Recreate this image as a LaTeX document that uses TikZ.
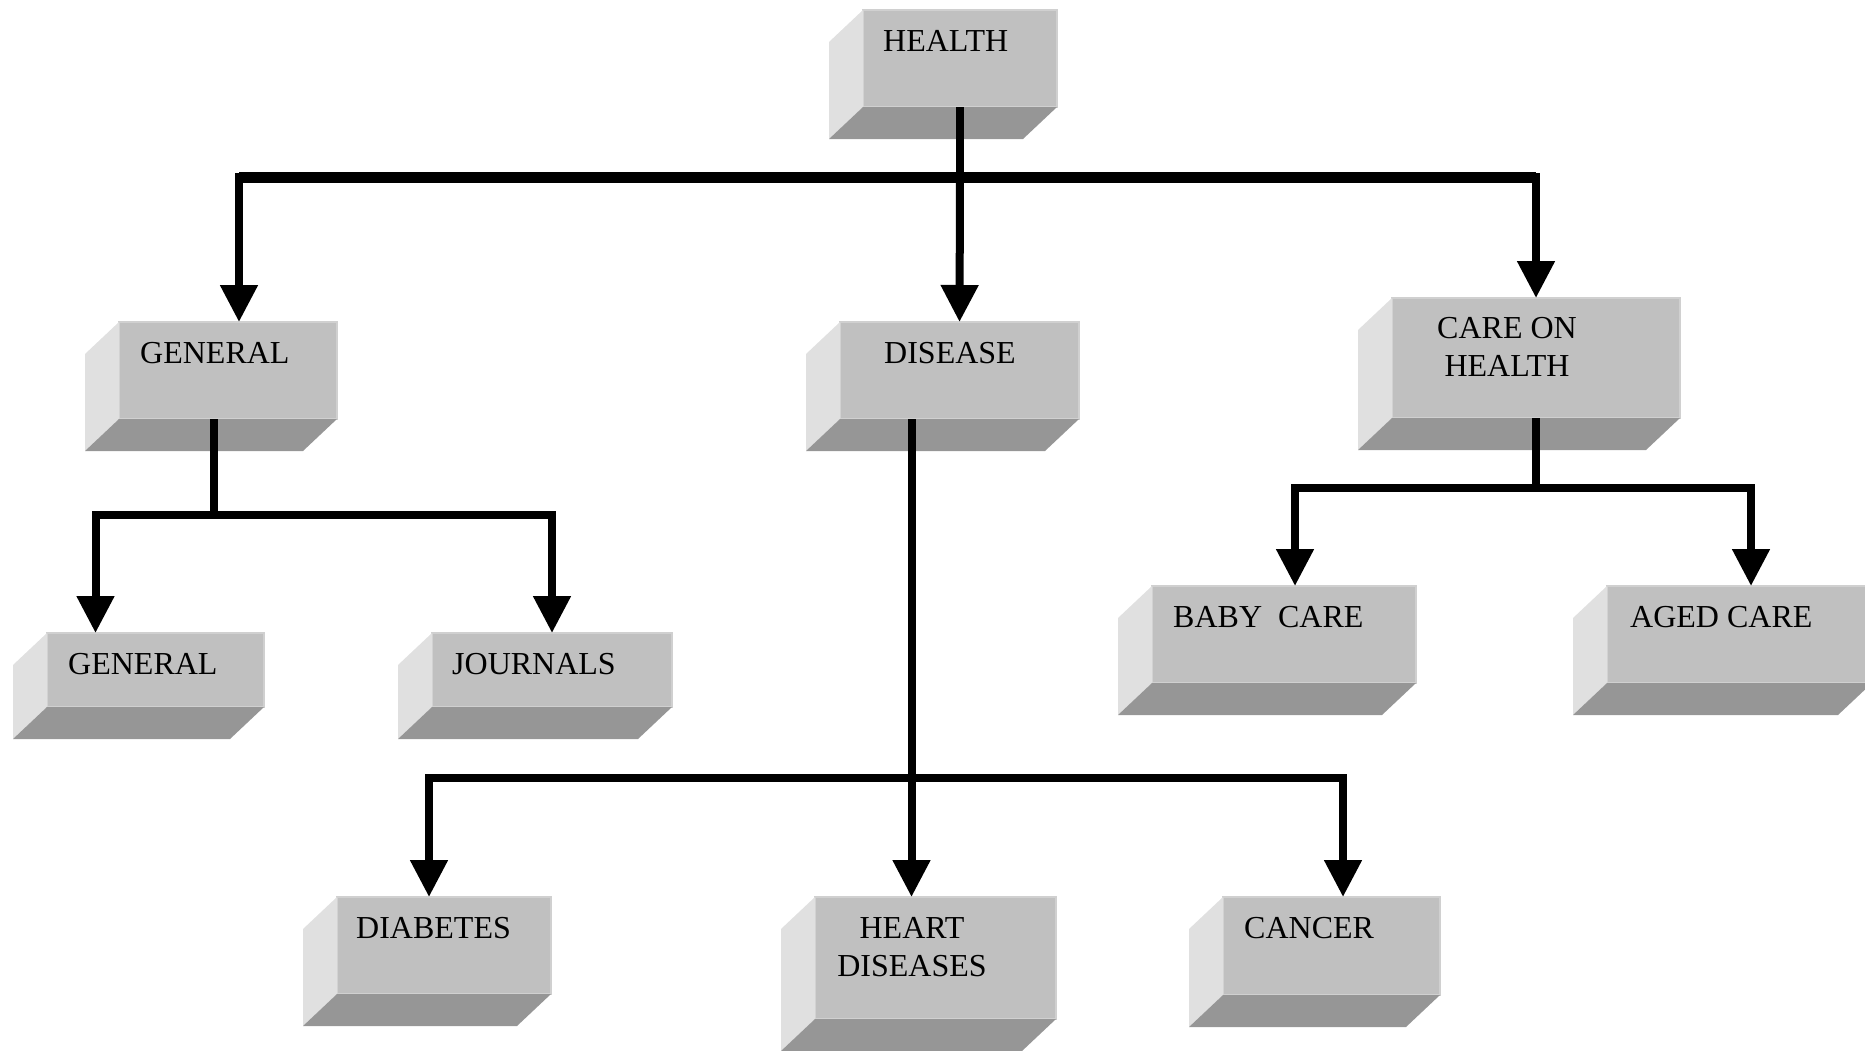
\documentclass[tikz,border=0pt]{standalone}
\usepackage{fontspec}
\setmainfont{Liberation Serif}
\usetikzlibrary{arrows.meta,calc}

\definecolor{facegray}{HTML}{C0C0C0}
\definecolor{rimgray}{HTML}{D0D0D0}
\definecolor{sidegray}{HTML}{E0E0E0}
\definecolor{lowgray}{HTML}{969696}

% raised box: front face node plus its left and lower bevels
\newcommand{\slab}[4]{%
  \node[face, minimum width=#3, minimum height=#4] (#1) at (#2) {};
  \fill[sidegray] (#1.north west) -- ++(-34,32) -- ($(#1.south west)+(-34,32)$)
    -- (#1.south west) -- cycle;
  \fill[lowgray] (#1.south west) -- (#1.south east) -- ++(-34,32)
    -- ($(#1.south west)+(-34,32)$) -- cycle;
}

\begin{document}
\begin{tikzpicture}[
  x=1pt, y=-1pt,
  font=\fontsize{32}{38}\selectfont,
  face/.style={draw=rimgray, line width=2pt, fill=facegray, anchor=north west,
    inner sep=0pt, outer sep=0pt},
  txt/.style={inner sep=0pt, align=center},
  link/.style={line width=8pt},
  bus/.style={line width=11pt},
  arr/.style={line width=8pt, -{Triangle[length=37pt,width=36pt]}}
]
  \clip (0,0) rectangle (1865,1050);

  % boxes
  \slab{health}{863,10}{194pt}{97pt}
  \slab{gena}{119,322}{218pt}{97pt}
  \slab{dis}{840,322}{239pt}{97pt}
  \slab{care}{1392,298}{288pt}{120pt}
  \slab{genb}{47,633}{217pt}{74pt}
  \slab{jour}{432,633}{240pt}{74pt}
  \slab{baby}{1152,586}{264pt}{97pt}
  \slab{aged}{1607,586}{265pt}{97pt}
  \slab{diab}{337,897}{214pt}{97pt}
  \slab{heart}{815,897}{241pt}{122pt}
  \slab{canc}{1223,897}{217pt}{98pt}

  % labels
  \node[txt, anchor=base west] (health-t) at (883,51) {HEALTH};
  \node[txt, anchor=base west] (gena-t) at (140,363) {GENERAL};
  \node[txt, anchor=base west] (dis-t) at (884,363) {DISEASE};
  \node[txt, anchor=north] (care-t) at (1507,317.5) {CARE ON\\HEALTH};
  \node[txt, anchor=base west] (genb-t) at (68,674) {GENERAL};
  \node[txt, anchor=base west] (jour-t) at (452,674) {JOURNALS};
  \node[txt, anchor=base west] (baby-t) at (1173,627) {BABY\ \ CARE};
  \node[txt, anchor=base west] (aged-t) at (1630,627) {AGED CARE};
  \node[txt, anchor=base west] (diab-t) at (356,938) {DIABETES};
  \node[txt, anchor=north] (heart-t) at (912,917.5) {HEART\\DISEASES};
  \node[txt, anchor=base west] (canc-t) at (1244,938) {CANCER};

  % entry points off the face centres
  \coordinate (gena-in) at ([xshift=11pt]gena.north);

  % connectors
  \draw[link] (health.south) -- ++(0,70) coordinate (hbus);
  \draw[arr] (hbus) -| (gena-in);
  \draw[arr] (hbus) -- (dis.north);
  \draw[arr] (hbus) -| (care.north);
  \draw[bus] (hbus -| gena-in) -- (hbus -| care.north);

  \draw[link] ([xshift=-14pt]gena.south) -- ++(0,96) coordinate (gbus);
  \draw[arr] (gbus) -| ([xshift=-60pt]genb.north);
  \draw[arr] (gbus) -| (jour.north);

  \draw[link] ([xshift=-48pt]dis.south) -- ++(0,359) coordinate (dbus);
  \draw[arr] (dbus) -| ([xshift=-15pt]diab.north);
  \draw[arr] (dbus) -- (dbus |- heart.north);
  \draw[arr] (dbus) -| ([xshift=11.5pt]canc.north);

  \draw[link] (care.south) -- ++(0,70) coordinate (cbus);
  \draw[arr] (cbus) -| ([xshift=11pt]baby.north);
  \draw[arr] (cbus) -| ([xshift=11.5pt]aged.north);
\end{tikzpicture}
\end{document}
